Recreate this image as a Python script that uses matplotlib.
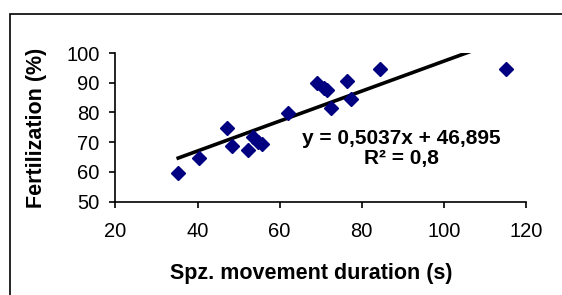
#!/usr/bin/env python3

import numpy as np
import matplotlib
matplotlib.use('Agg')
import matplotlib.pyplot as plt
from matplotlib.patches import Rectangle

plt.rcParams['font.family'] = ['Liberation Sans', 'DejaVu Sans']

# movement duration (s) vs fertilization (%)
duration = [35.3, 40.3, 47.3, 48.4, 52.4, 53.4, 54.7, 55.6, 62.1, 69.1,
            70.9, 71.5, 72.4, 76.3, 77.4, 84.4, 115.2]
fertilization = [59.7, 64.8, 74.7, 68.6, 67.4, 71.9, 70.2, 69.5, 79.7, 89.9,
                 88.4, 87.5, 81.4, 90.6, 84.6, 94.7, 94.7]

slope = 0.5037
intercept = 46.895
x_ticks = [20, 40, 60, 80, 100, 120]
y_ticks = [50, 60, 70, 80, 90, 100]

fig = plt.figure(figsize=(5.62, 2.95), dpi=100)
ax = fig.add_axes([0.2053, 0.3163, 0.7307, 0.504])

ax.plot(duration, fertilization, linestyle='none', marker='D',
        markersize=7.5, color='#000080', zorder=3)

# linear trendline over the data range
xs = np.array([min(duration), max(duration)])
ax.plot(xs, slope * xs + intercept, color='black', linewidth=2.6, zorder=2)

ax.set_xlim(20, 120)
ax.set_ylim(50, 100)
ax.set_xticks(x_ticks)
ax.set_yticks(y_ticks)
ax.tick_params(direction='out', length=4.5, width=1.2, labelsize=14.5)
ax.tick_params(axis='x', pad=10)
ax.tick_params(axis='y', pad=7)
for side in ['top', 'right']:
    ax.spines[side].set_visible(False)
for side in ['left', 'bottom']:
    ax.spines[side].set_linewidth(1.2)

ax.set_xlabel('Spz. movement duration (s)', fontsize=15.5, fontweight='bold')
ax.set_ylabel('Fertilization (%)', fontsize=15.5, fontweight='bold')
ax.xaxis.label.set_va('center')
ax.yaxis.label.set_va('center')
ax.xaxis.set_label_coords(0.478, -0.48)
ax.yaxis.set_label_coords(-0.193, 0.496)

fig.text(401 / 562, 1 - 148.5 / 295, 'y = 0,5037x + 46,895\nR² = 0,8',
         ha='center', va='center', fontsize=15, fontweight='bold',
         linespacing=1.12)

# chart border
fig.patches.append(Rectangle((10 / 562, -0.05), 1.2, 1 - 14 / 295 + 0.05,
                             transform=fig.transFigure, fill=False,
                             edgecolor='black', linewidth=1.2))

fig.savefig('out.png', dpi=100)
